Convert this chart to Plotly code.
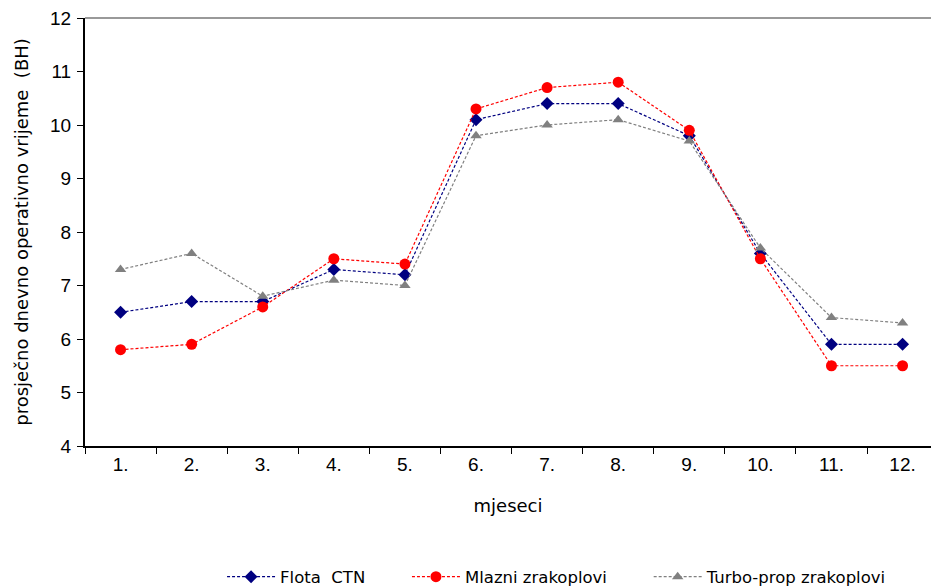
import plotly.graph_objects as go

months = ["1.", "2.", "3.", "4.", "5.", "6.", "7.", "8.", "9.", "10.", "11.", "12."]
flota_ctn = [6.5, 6.7, 6.7, 7.3, 7.2, 10.1, 10.4, 10.4, 9.8, 7.6, 5.9, 5.9]
mlazni = [5.8, 5.9, 6.6, 7.5, 7.4, 10.3, 10.7, 10.8, 9.9, 7.5, 5.5, 5.5]
turbo_prop = [7.3, 7.6, 6.8, 7.1, 7.0, 9.8, 10.0, 10.1, 9.7, 7.7, 6.4, 6.3]

NB = "\u00a0"
series = [
    ("Flota" + NB * 2 + "CTN" + NB * 7, flota_ctn, "#000080", "diamond", 10),
    ("Mlazni zrakoplovi" + NB * 7, mlazni, "#FF0000", "circle", 11),
    ("Turbo-prop zrakoplovi", turbo_prop, "#808080", "triangle-up", 10),
]

TITLE_FONT = "DejaVu Sans"

fig = go.Figure()
for name, vals, col, sym, sz in series:
    fig.add_trace(go.Scatter(
        x=months, y=vals, name=name, mode="lines+markers",
        line=dict(color=col, width=1.2, dash="3px,2px"),
        marker=dict(color=col, symbol=sym, size=sz),
    ))

fig.update_layout(
    width=931, height=587,
    margin=dict(l=85, r=0, t=18, b=141, autoexpand=False),
    plot_bgcolor="white", paper_bgcolor="white",
    font=dict(family="Liberation Sans", size=18, color="black"),
    showlegend=True,
    legend=dict(orientation="h", x=0.162, xanchor="left", y=-0.306, yanchor="middle",
                font=dict(family=TITLE_FONT, size=16.5), itemwidth=48,
                tracegroupgap=0),
    xaxis=dict(
        type="category", range=[-0.5, 11.4], automargin=False,
        showline=True, linecolor="black", linewidth=2,
        ticks="outside", ticklen=6, tickcolor="black", tickson="boundaries",
        showgrid=False, tickfont=dict(family="Liberation Sans", size=19),
        title=dict(text="mjeseci", font=dict(family=TITLE_FONT, size=18), standoff=26),
    ),
    yaxis=dict(
        range=[4, 12], dtick=1, automargin=False,
        showline=True, linecolor="black", linewidth=2,
        ticks="outside", ticklen=6, tickcolor="black", ticklabelstandoff=2,
        ticklabeloverflow="allow",
        showgrid=False, zeroline=False,
        tickfont=dict(family="Liberation Sans", size=19),
        title=dict(text="prosječno dnevno operativno vrijeme" + NB * 2 + "(BH)",
                   font=dict(family=TITLE_FONT, size=18), standoff=17),
    ),
    shapes=[dict(type="line", xref="paper", yref="paper", x0=0, x1=1, y0=1, y1=1,
                 line=dict(color="#999999", width=2))],
)

fig.write_html(
    "out.html",
    config={"displayModeBar": False},
    post_script="document.body.style.margin='0';document.body.style.overflow='hidden';",
)
